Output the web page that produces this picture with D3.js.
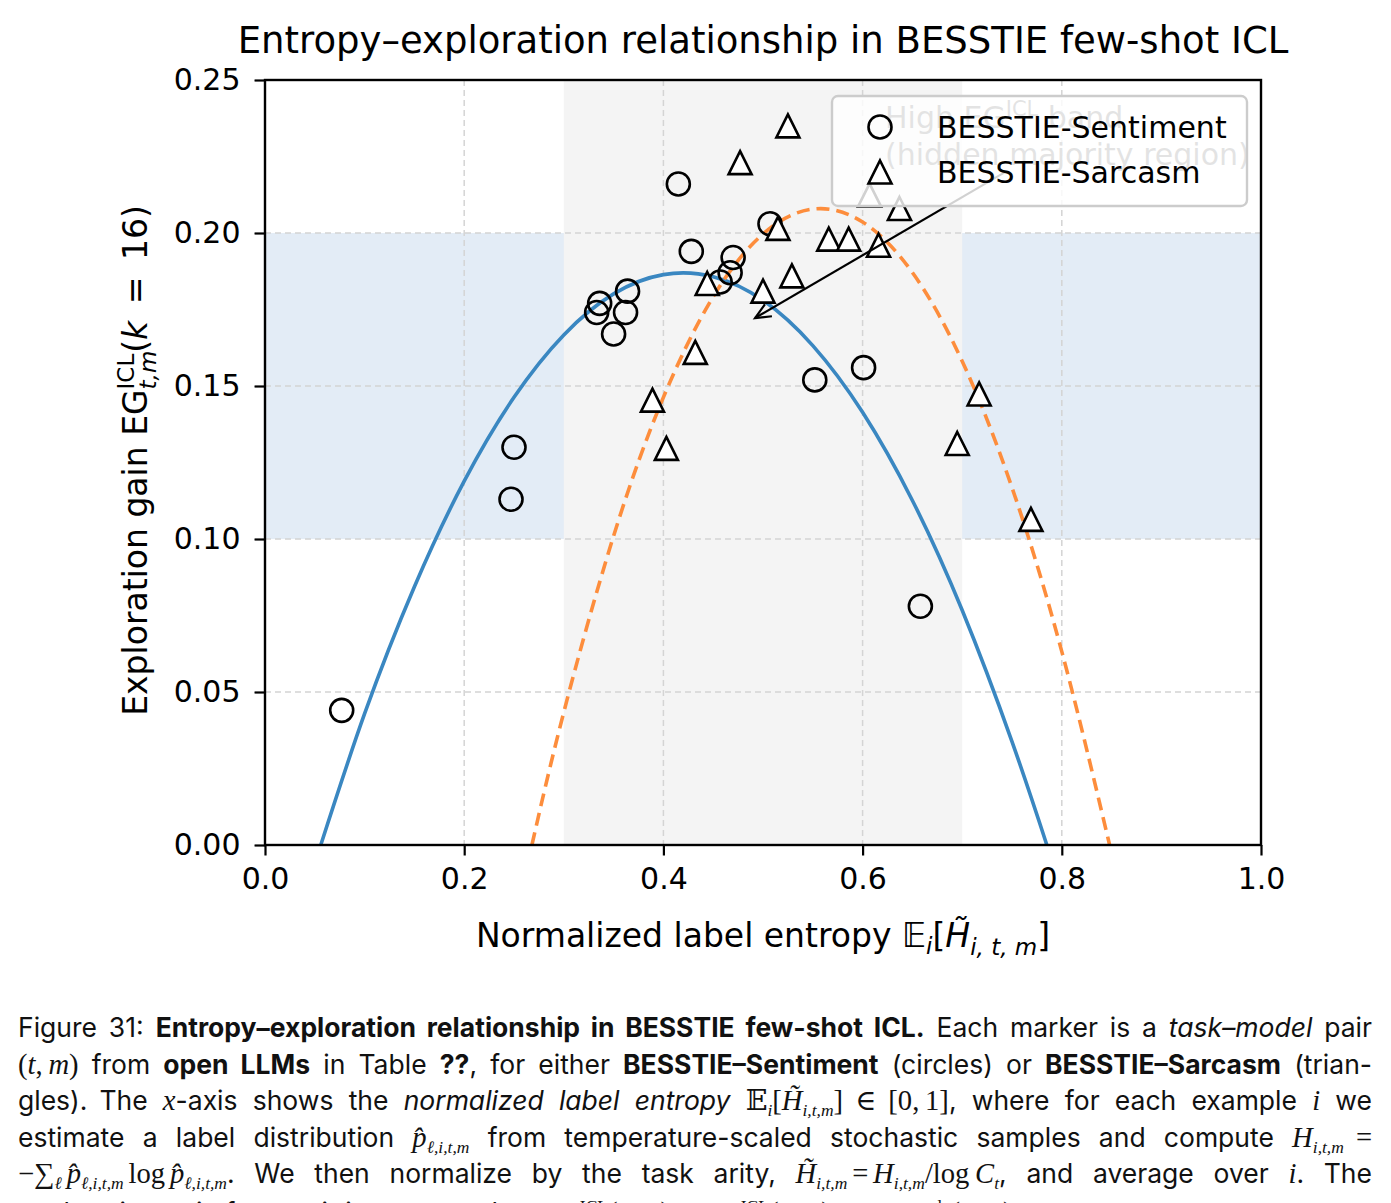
<!DOCTYPE html>
<html><head><meta charset="utf-8">
<script src="https://cdn.jsdelivr.net/npm/d3@7"></script>
<style>
body{margin:0;background:#fff;width:1391px;height:1203px;overflow:hidden;position:relative;}
svg{position:absolute;left:0;top:0;}
.cap{position:absolute;left:18px;font-family:Inter,"Liberation Sans",sans-serif;font-size:26.5px;line-height:36px;color:#111;white-space:nowrap;}
.cap b{font-weight:700;}
.m{font-family:"Liberation Serif","DejaVu Serif",serif;font-style:italic;font-size:1.08em;}
.r{font-family:"Liberation Serif","DejaVu Serif",serif;font-style:normal;font-size:1.08em;}
.cap sub,.cap sup{font-size:0.66em;line-height:0;}
.g{display:inline-block;width:12px;}
</style></head><body>
<svg id="chart" width="1391" height="1000"></svg>
<div id="caption"></div>
<script>
// ---------------- data ----------------
const xTicks = [0.0, 0.2, 0.4, 0.6, 0.8, 1.0];
const yTicks = [0.00, 0.05, 0.10, 0.15, 0.20, 0.25];
const seriesNames = ["BESSTIE-Sentiment", "BESSTIE-Sarcasm"];
const sentimentX = [0.077, 0.250, 0.247, 0.333, 0.336, 0.364, 0.362, 0.350, 0.415, 0.428, 0.507, 0.470, 0.467, 0.457, 0.552, 0.601, 0.658];
const sentimentY = [0.044, 0.130, 0.113, 0.174, 0.177, 0.181, 0.174, 0.167, 0.216, 0.194, 0.203, 0.192, 0.187, 0.184, 0.152, 0.156, 0.078];
const sarcasmX = [0.525, 0.477, 0.515, 0.566, 0.586, 0.616, 0.529, 0.500, 0.444, 0.607, 0.637, 0.432, 0.389, 0.403, 0.717, 0.695, 0.769];
const sarcasmY = [0.235, 0.223, 0.2015, 0.198, 0.198, 0.196, 0.186, 0.181, 0.1835, 0.2124, 0.208, 0.161, 0.1454, 0.1296, 0.1474, 0.1312, 0.1064];
const fitSentX = [0.056, 0.10, 0.15, 0.20, 0.25, 0.30, 0.35, 0.40, 0.45, 0.50, 0.55, 0.60, 0.65, 0.70, 0.75, 0.785];
const fitSentY = [0.000, 0.0429, 0.0844, 0.1189, 0.1463, 0.1667, 0.1801, 0.1864, 0.1857, 0.1780, 0.1632, 0.1414, 0.1126, 0.0767, 0.0338, 0.000];
const fitSarcX = [0.268, 0.30, 0.35, 0.40, 0.45, 0.50, 0.55, 0.60, 0.65, 0.70, 0.75, 0.80, 0.848];
const fitSarcY = [0.000, 0.0434, 0.1010, 0.1463, 0.1792, 0.1997, 0.2078, 0.2036, 0.1871, 0.1581, 0.1168, 0.0632, 0.000];
const highBand = [0.10, 0.20];
const entropyBand = [0.3, 0.7];
const arrowFrom = [0.743, 0.2199];
const arrowTo = [0.492, 0.1722];

// ---------------- layout ----------------
const L = 265, R = 1261, T = 80, B = 845;
const FONT = "'DejaVu Sans', sans-serif";
const x = d3.scaleLinear().domain([0, 1]).range([L, R]);
const y = d3.scaleLinear().domain([0, 0.25]).range([B, T]);
const svg = d3.select("#chart");

svg.append("defs").append("clipPath").attr("id", "plotclip")
  .append("rect").attr("x", L).attr("y", T).attr("width", R - L).attr("height", B - T);

// bands
svg.append("rect").attr("x", L).attr("width", R - L)
  .attr("y", y(highBand[1])).attr("height", y(highBand[0]) - y(highBand[1]))
  .attr("fill", "#e3ecf6");
svg.append("rect").attr("x", x(entropyBand[0])).attr("width", x(entropyBand[1]) - x(entropyBand[0]))
  .attr("y", T).attr("height", B - T).attr("fill", "#f4f4f4");

// grid
const grid = svg.append("g").attr("stroke", "#d4d4d4").attr("stroke-width", 1.5).attr("stroke-dasharray", "6,4");
grid.selectAll(".gx").data(xTicks).join("line").attr("class", "gx")
  .attr("x1", d => x(d)).attr("x2", d => x(d)).attr("y1", T).attr("y2", B);
grid.selectAll(".gy").data(yTicks).join("line").attr("class", "gy")
  .attr("y1", d => y(d)).attr("y2", d => y(d)).attr("x1", L).attr("x2", R);

// fitted curves
const line = d3.line().x(d => x(d[0])).y(d => y(d[1])).curve(d3.curveNatural);
const plot = svg.append("g").attr("clip-path", "url(#plotclip)");
plot.append("path").datum(fitSentX.map((v, i) => [v, fitSentY[i]]))
  .attr("d", line).attr("fill", "none").attr("stroke", "#3a87c1").attr("stroke-width", 3.6);
plot.append("path").datum(fitSarcX.map((v, i) => [v, fitSarcY[i]]))
  .attr("d", line).attr("fill", "none").attr("stroke", "#fd8d3c").attr("stroke-width", 3.6)
  .attr("stroke-dasharray", "13,7");

// markers
const triPath = h => `M0,${-h}L${h},${h}L${-h},${h}Z`;
svg.append("g").selectAll("circle").data(sentimentX.map((v, i) => [v, sentimentY[i]])).join("circle")
  .attr("cx", d => x(d[0])).attr("cy", d => y(d[1])).attr("r", 11.5)
  .attr("fill", "none").attr("stroke", "#000").attr("stroke-width", 2.6);
svg.append("g").selectAll("path").data(sarcasmX.map((v, i) => [v, sarcasmY[i]])).join("path")
  .attr("transform", d => `translate(${x(d[0])},${y(d[1])})`).attr("d", triPath(11.5))
  .attr("fill", "#fff").attr("stroke", "#000").attr("stroke-width", 2.6);

// axes
const xAxis = d3.axisBottom(x).tickValues(xTicks).tickFormat(d3.format(".1f")).tickSize(10.5).tickPadding(12);
const yAxis = d3.axisLeft(y).tickValues(yTicks).tickFormat(d3.format(".2f")).tickSize(10.5).tickPadding(14);
const gx = svg.append("g").attr("transform", `translate(0,${B})`).call(xAxis);
const gy = svg.append("g").attr("transform", `translate(${L},0)`).call(yAxis);
[gx, gy].forEach(g => {
  g.select(".domain").remove();
  g.selectAll(".tick line").attr("stroke", "#000").attr("stroke-width", 2.2);
  g.selectAll(".tick text").attr("font-family", FONT).attr("font-size", 30).attr("fill", "#000");
});
svg.append("rect").attr("x", L).attr("y", T).attr("width", R - L).attr("height", B - T)
  .attr("fill", "none").attr("stroke", "#000").attr("stroke-width", 2.4);

// helper for measuring
function textWidth(str, size, italic) {
  const t = svg.append("text").attr("font-family", FONT).attr("font-size", size)
    .attr("font-style", italic ? "italic" : "normal").text(str);
  const w = t.node().getComputedTextLength(); t.remove(); return w;
}

// title
svg.append("text").attr("x", (L + R) / 2).attr("y", 53).attr("text-anchor", "middle")
  .attr("font-family", FONT).attr("font-size", 37).attr("fill", "#000")
  .text("Entropy\u2013exploration relationship in BESSTIE few-shot ICL");

// x label
const LAB = 33, SUBF = 23;
const xl = svg.append("text").attr("x", (L + R) / 2).attr("y", 947).attr("text-anchor", "middle")
  .attr("font-family", FONT).attr("font-size", LAB).attr("fill", "#000");
xl.append("tspan").text("Normalized label entropy ");
xl.append("tspan").attr("font-style", "italic").text("\u{1D53C}");
xl.append("tspan").attr("font-style", "italic").attr("font-size", SUBF).attr("dy", 7).text("i");
xl.append("tspan").attr("dy", -7).text("[");
xl.append("tspan").attr("font-style", "italic").text("H\u0303");
xl.append("tspan").attr("font-style", "italic").attr("font-size", SUBF).attr("dy", 8).text("i, t, m");
xl.append("tspan").attr("dy", -8).text("]");

// y label (rotated) with stacked super/subscript
const wSup = textWidth("ICL", SUBF, false), wSub = textWidth("t,m", SUBF, true);
const yl = svg.append("text").attr("transform", `translate(147,${(T + B) / 2 - 2}) rotate(-90)`)
  .attr("text-anchor", "middle").attr("font-family", FONT).attr("font-size", LAB).attr("fill", "#000");
yl.append("tspan").text("Exploration gain EG");
yl.append("tspan").attr("font-size", SUBF).attr("dy", -13).text("ICL");
yl.append("tspan").attr("font-size", SUBF).attr("font-style", "italic").attr("dx", -wSup).attr("dy", 22).text("t,m");
yl.append("tspan").attr("dx", wSup - wSub + 1).attr("dy", -9).text("(");
yl.append("tspan").attr("font-style", "italic").text("k");
yl.append("tspan").text("\u2002=\u200216)");

// annotation (behind legend)
const ann = svg.append("g");
ann.append("line").attr("x1", x(arrowFrom[0])).attr("y1", y(arrowFrom[1]))
  .attr("x2", x(arrowTo[0])).attr("y2", y(arrowTo[1])).attr("stroke", "#000").attr("stroke-width", 2.2);
{
  const ang = Math.atan2(y(arrowFrom[1]) - y(arrowTo[1]), x(arrowFrom[0]) - x(arrowTo[0]));
  const tx = x(arrowTo[0]), ty = y(arrowTo[1]), hl = 17, sp = 0.42;
  ann.append("path").attr("fill", "none").attr("stroke", "#000").attr("stroke-width", 2.2)
    .attr("d", `M${tx + hl * Math.cos(ang + sp)},${ty + hl * Math.sin(ang + sp)}L${tx},${ty}L${tx + hl * Math.cos(ang - sp)},${ty + hl * Math.sin(ang - sp)}`);
}
const at1 = ann.append("text").attr("x", 885).attr("y", 128).attr("font-family", FONT).attr("font-size", 30).attr("fill", "#666");
at1.append("tspan").text("High EG");
at1.append("tspan").attr("font-size", 21).attr("dy", -12).text("ICL");
at1.append("tspan").attr("dy", 12).text(" band");
ann.append("text").attr("x", 885).attr("y", 165).attr("font-family", FONT).attr("font-size", 30).attr("fill", "#666")
  .text("(hidden majority region)");

// legend
const lg = svg.append("g");
lg.append("rect").attr("x", 832).attr("y", 96).attr("width", 415).attr("height", 110).attr("rx", 6)
  .attr("fill", "#fff").attr("fill-opacity", 0.82).attr("stroke", "#cccccc").attr("stroke-width", 2.4);
const lgRows = [{cy: 127, kind: "circle"}, {cy: 172, kind: "tri"}];
lgRows.forEach((r, i) => {
  if (r.kind === "circle") lg.append("circle").attr("cx", 880).attr("cy", r.cy).attr("r", 11.5)
    .attr("fill", "none").attr("stroke", "#000").attr("stroke-width", 2.6);
  else lg.append("path").attr("transform", `translate(880,${r.cy})`).attr("d", triPath(11.5))
    .attr("fill", "#fff").attr("stroke", "#000").attr("stroke-width", 2.6);
  lg.append("text").attr("x", 937).attr("y", r.cy + 11).attr("font-family", FONT).attr("font-size", 30)
    .attr("fill", "#000").text(seriesNames[i]);
});

// ---------------- caption ----------------
const capLines = [
  `Figure 31:<span class="g"></span><b>Entropy\u2013exploration relationship in BESSTIE few-shot ICL.</b> Each marker is a <i>task\u2013model</i> pair`,
  `<span class="r">(</span><span class="m">t</span><span class="r">,&#8201;</span><span class="m">m</span><span class="r">)</span> from <b>open LLMs</b> in Table <b>??</b>, for either <b>BESSTIE\u2013Sentiment</b> (circles) or <b>BESSTIE\u2013Sarcasm</b> (trian-`,
  `gles).<span class="g"></span>The <span class="m">x</span>-axis shows the <i>normalized label entropy</i> <span class="r">\u{1D53C}</span><sub class="m">i</sub><span class="r">[</span><span class="m">H\u0303</span><sub class="m">i,t,m</sub><span class="r">]</span><span class="g"></span><span class="r">\u2208</span><span class="g"></span><span class="r">[0,&#8201;1]</span>, where for each example <span class="m">i</span> we`,
  `estimate a label distribution <span class="m">p\u0302</span><sub class="m">\u2113,i,t,m</sub> from temperature-scaled stochastic samples and compute <span class="m">H</span><sub class="m">i,t,m</sub><span class="g"></span><span class="r">=</span>`,
  `<span class="r">\u2212\u2211</span><sub class="m">\u2113</sub>&#8201;<span class="m">p\u0302</span><sub class="m">\u2113,i,t,m</sub>&#8201;<span class="r">log</span>&#8201;<span class="m">p\u0302</span><sub class="m">\u2113,i,t,m</sub>. We then normalize by the task arity, <span class="m">H\u0303</span><sub class="m">i,t,m</sub>&#8201;<span class="r">=</span>&#8201;<span class="m">H</span><sub class="m">i,t,m</sub><span class="r">/log&#8201;</span><span class="m">C</span><sub class="m">t</sub>, and average over <span class="m">i</span>. The`,
  `exploration gain for a pair is measured as <span class="r">EG</span><sup class="r">ICL</sup><span class="r">(</span><span class="m">t, m</span><span class="r">)</span> <span class="r">=</span> <span class="m">acc</span><sup class="r">ICL</sup><span class="r">(</span><span class="m">t, m</span><span class="r">)</span> \u2212 <span class="m">acc</span><sup class="r">greedy</sup><span class="r">(</span><span class="m">t, m</span><span class="r">)</span>.`
];
const capTops = [1009, 1045.5, 1082, 1118.5, 1155, 1193.5];
const cap = d3.select("#caption");
const capDivs = capLines.map((html, i) =>
  cap.append("div").attr("class", "cap").style("top", capTops[i] + "px").html(html).node());
function justify() {
  capDivs.forEach((d, i) => {
    if (i >= 5) return;
    const n = (d.textContent.match(/ /g) || []).length;
    if (!n) return;
    let ws = 0;
    d.style.wordSpacing = "0px";
    for (let k = 0; k < 3; k++) {
      const w = d.getBoundingClientRect().width;
      ws += (1354 - w) / n;
      d.style.wordSpacing = ws + "px";
    }
  });
}
justify();
if (document.fonts && document.fonts.ready) document.fonts.ready.then(justify);
</script>
</body></html>
